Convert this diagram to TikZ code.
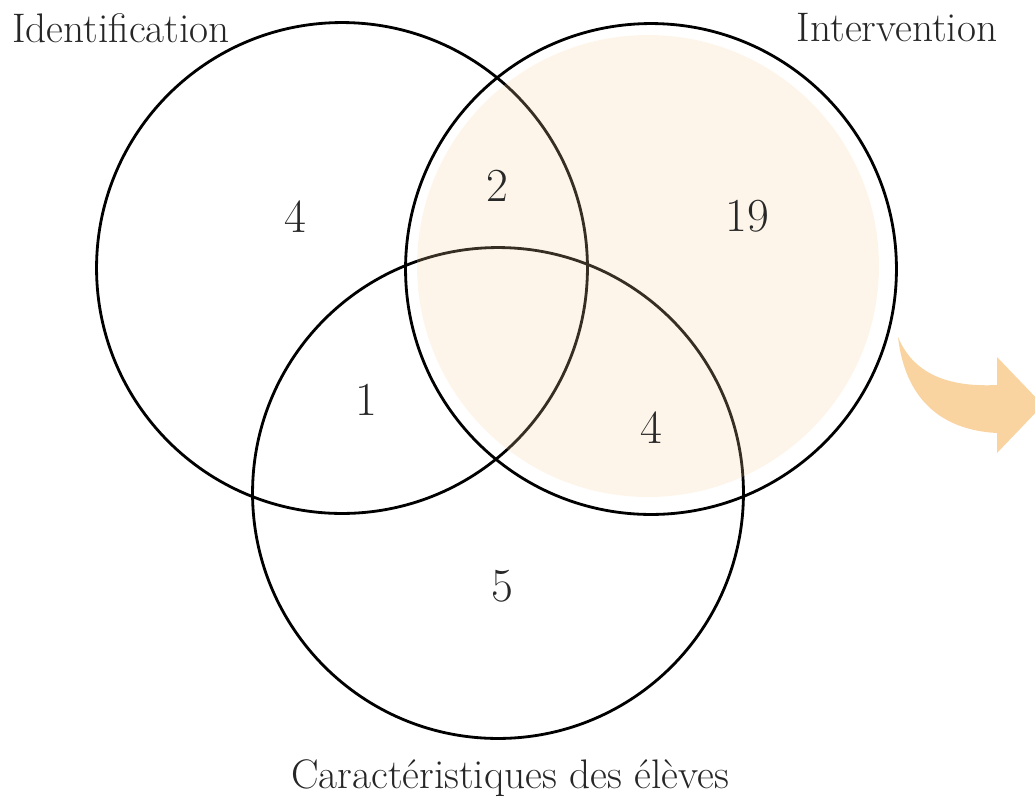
\documentclass[tikz,border=0pt]{standalone}
\usepackage{xcolor}
\usepackage{tikz}
\usetikzlibrary{arrows.meta,positioning,calc}

\definecolor{peach}{RGB}{249,211,160}
\definecolor{numgray}{RGB}{40,40,40}

\begin{document}
\begin{tikzpicture}[
  x=0.02cm, y=-0.02cm,
  font=\fontsize{23.5}{28}\selectfont,
  setcircle/.style={draw, circle, line width=1.6pt, minimum size=9.82cm, inner sep=0pt},
  count/.style={text=numgray, font=\fontsize{27}{32}\selectfont},
  setlabel/.style={text=black!85}
]
\useasboundingbox (0,0) rectangle (1035,802);
\clip (0,0) rectangle (1035,802);

\node[setcircle] (ident) at (342,268) {};
\node[setcircle] (interv) at (651,269) {};
\node[setcircle] (carac) at (498,493) {};

% zone mise en avant
\fill[peach, opacity=0.22] (648,266) circle[radius=231];

\node[setlabel] (identlabel) at (121,28) {Identification};
\node[setlabel] (intervlabel) at (897,28) {Intervention};
\node[setlabel] (caraclabel) at (510,778) {Caractéristiques des élèves};

\node[count] (nident) at (295,217) {4};
\node[count] (nidinter) at (497,186) {2};
\node[count] (ninterv) at (747,216) {19};
\node[count] (nidcar) at (366,400) {1};
\node[count] (nintcar) at (651,428) {4};
\node[count] (ncarac) at (502,586) {5};

% fleche
\fill[peach] (898,337) .. controls (915,378) and (955,387) .. (997,385)
  -- (997,357) -- (1043,405) -- (997,453) -- (997,433)
  .. controls (940,430) and (905,398) .. cycle;
\end{tikzpicture}
\end{document}
